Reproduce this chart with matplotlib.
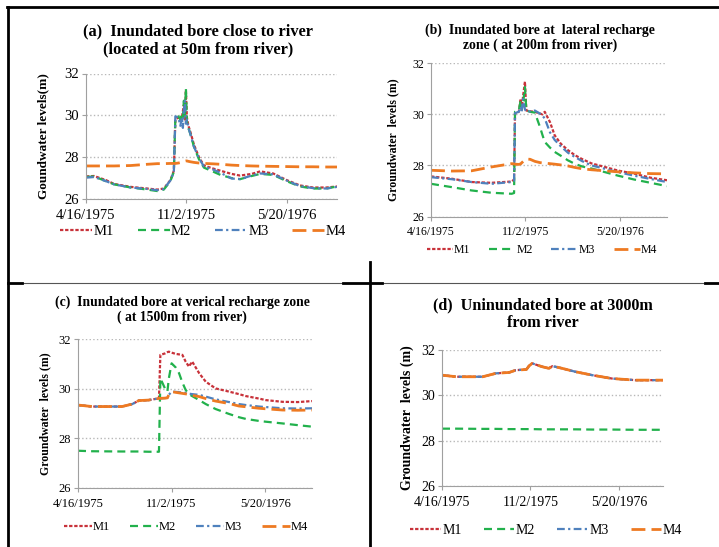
import matplotlib
matplotlib.use('Agg')
import matplotlib.pyplot as plt
from matplotlib.lines import Line2D

plt.rcParams['font.family'] = ['Liberation Serif', 'DejaVu Serif']

W, H = 719, 547

# x axis: days after 4/16/1975
tick_days = [0, 200, 400]
tick_labels = ['4/16/1975', '11/2/1975', '5/20/1976']
series_names = ['M1', 'M2', 'M3', 'M4']

# (a) bore close to river
a_days = [0, 16, 40, 56, 89, 122, 142, 155, 168, 175, 178, 184, 188, 191, 193, 195, 197, 199,
          201, 204, 208, 215, 225, 235, 254, 268, 290, 307, 330, 347, 373, 400, 426, 452, 479, 500]
a_m1 = [27.08, 27.1, 26.9, 26.72, 26.58, 26.5, 26.45, 26.5, 26.9, 27.35, 29.8, 29.9, 29.75, 29.9,
        30.2, 30.5, 29.8, 31.2, 29.9, 29.5, 29.2, 28.6, 28.0, 27.6, 27.45, 27.35, 27.2, 27.12,
        27.2, 27.32, 27.22, 26.9, 26.65, 26.55, 26.55, 26.6]
a_m2 = [27.05, 27.08, 26.85, 26.7, 26.55, 26.45, 26.38, 26.45, 26.85, 27.3, 29.85, 29.95, 29.8,
        30.1, 29.9, 30.7, 29.9, 31.3, 29.7, 29.4, 29.1, 28.5, 27.9, 27.5, 27.3, 27.15, 27.0,
        26.95, 27.1, 27.2, 27.15, 26.85, 26.6, 26.5, 26.5, 26.6]
a_m3 = [27.02, 27.05, 26.85, 26.7, 26.55, 26.48, 26.42, 26.48, 26.88, 27.3, 29.95, 29.9, 29.5,
        29.9, 29.4, 30.3, 30.7, 29.6, 29.8, 29.4, 29.1, 28.5, 27.95, 27.55, 27.4, 27.25, 26.98,
        26.95, 27.12, 27.22, 27.18, 26.88, 26.62, 26.52, 26.5, 26.58]
a_m4 = [27.58, 27.58, 27.58, 27.58, 27.6, 27.66, 27.69, 27.69, 27.7, 27.7, 27.7, 27.72, 27.74,
        27.76, 27.78, 27.8, 27.81, 27.82, 27.82, 27.8, 27.78, 27.75, 27.72, 27.7, 27.68, 27.66,
        27.62, 27.6, 27.58, 27.57, 27.56, 27.55, 27.54, 27.54, 27.53, 27.53]

# (b) lateral recharge zone
b_days = [0, 44, 86, 128, 171, 176, 178, 186, 190, 192, 195, 199, 202, 210, 220, 231, 236, 241,
          252, 262, 275, 290, 305, 320, 340, 368, 396, 430, 465, 500]
b_m1 = [27.57, 27.48, 27.35, 27.32, 27.37, 27.45, 30.03, 30.1, 30.6, 30.15, 30.7, 31.28, 30.15,
        30.12, 30.1, 30.03, 30.0, 30.1, 29.7, 29.18, 28.85, 28.6, 28.4, 28.25, 28.08, 27.94, 27.8,
        27.68, 27.52, 27.42]
b_m2 = [27.28, 27.15, 27.02, 26.93, 26.89, 26.92, 30.1, 30.15, 30.55, 30.2, 30.4, 31.07, 30.15,
        30.1, 30.07, 29.5, 29.2, 28.92, 28.7, 28.53, 28.38, 28.2, 28.06, 27.96, 27.88, 27.74,
        27.6, 27.45, 27.32, 27.19]
b_m3 = [27.54, 27.46, 27.35, 27.28, 27.35, 27.4, 30.05, 30.1, 30.3, 30.1, 30.6, 30.2, 30.1,
        30.12, 30.15, 30.03, 29.95, 29.84, 29.3, 29.0, 28.75, 28.5, 28.33, 28.17, 28.0, 27.87,
        27.74, 27.6, 27.47, 27.35]
b_m4 = [27.81, 27.78, 27.79, 27.94, 28.07, 28.06, 28.05, 28.04, 28.06, 28.1, 28.15, 28.22, 28.25,
        28.24, 28.16, 28.11, 28.1, 28.09, 28.07, 28.05, 28.02, 27.98, 27.92, 27.87, 27.83, 27.79,
        27.75, 27.71, 27.68, 27.67]

# (c) vertical recharge zone
c_days = [0, 30, 94, 116, 130, 151, 173, 176, 186, 191, 194, 200, 209, 216, 223, 230, 237, 244,
          259, 273, 294, 323, 344, 359, 387, 401, 437, 470, 500]
c_m1 = [29.34, 29.28, 29.28, 29.38, 29.52, 29.54, 29.61, 31.36, 31.42, 31.47, 31.49, 31.45, 31.4,
        31.38, 31.36, 31.09, 30.89, 31.09, 30.62, 30.28, 30.01, 29.88, 29.78, 29.7, 29.6, 29.54,
        29.47, 29.46, 29.5]
c_m2 = [27.5, 27.48, 27.47, 27.47, 27.47, 27.46, 27.46, 30.42, 30.0, 29.88, 30.4, 31.02, 30.85,
        30.62, 30.25, 29.95, 29.78, 29.7, 29.54, 29.38, 29.18, 28.98, 28.85, 28.78, 28.7, 28.67,
        28.6, 28.53, 28.47]
c_m3 = [29.34, 29.28, 29.28, 29.38, 29.52, 29.54, 29.61, 29.61, 29.62, 29.63, 29.75, 29.88, 29.87,
        29.86, 29.84, 29.83, 29.8, 29.78, 29.75, 29.68, 29.57, 29.46, 29.38, 29.34, 29.28, 29.26,
        29.21, 29.2, 29.21]
c_m4 = [29.34, 29.28, 29.28, 29.38, 29.52, 29.54, 29.61, 29.61, 29.62, 29.63, 29.75, 29.88, 29.85,
        29.83, 29.81, 29.79, 29.76, 29.73, 29.68, 29.6, 29.5, 29.4, 29.3, 29.27, 29.21, 29.19,
        29.14, 29.13, 29.14]

# (d) uninundated bore
d_days = [0, 32, 92, 122, 152, 167, 191, 197, 204, 227, 242, 250, 272, 302, 340, 385, 438, 500]
d_m1 = [30.89, 30.82, 30.82, 30.97, 31.01, 31.11, 31.14, 31.3, 31.41, 31.26, 31.19, 31.29, 31.19,
        31.04, 30.89, 30.74, 30.67, 30.67]
d_m2 = [28.53, 28.53, 28.52, 28.52, 28.51, 28.51, 28.51, 28.51, 28.51, 28.5, 28.5, 28.5, 28.5,
        28.5, 28.49, 28.49, 28.48, 28.48]
d_m3 = list(d_m1)
d_m4 = list(d_m1)

colors = ['#C8323A', '#22B14C', '#4F81BD', '#EE7A22']
styles = [dict(lw=1.6, dashes=(1.5, 0.8)),
          dict(lw=1.6, dashes=(3.6, 2.3)),
          dict(lw=1.6, dashes=(3.5, 1.5, 1, 1.5)),
          dict(lw=2.0, dashes=(5, 2.2))]

panels = [
    dict(data=(a_days, [a_m1, a_m2, a_m3, a_m4]), box=(86, 337, 73.5, 199),
         title='(a)  Inundated bore close to river\n(located at 50m from river)',
         tpos=(198, 40), tsize=11.8, ylabel='Goundwater levels(m)', ypos=43, ysize=9.5,
         ticksize=10.5, xpad=4, leg=(203, 231), lsize=10.5),
    dict(data=(b_days, [b_m1, b_m2, b_m3, b_m4]), box=(431, 667, 63.3, 216.5),
         title='(b)  Inundated bore at  lateral recharge\nzone ( at 200m from river)',
         tpos=(540, 37.5), tsize=9.9, ylabel='Groundwater  levels (m)', ypos=393, ysize=8.5,
         ticksize=8.5, xpad=4, leg=(542, 250), lsize=8.5),
    dict(data=(c_days, [c_m1, c_m2, c_m3, c_m4]), box=(78, 312, 339, 488),
         title='(c)  Inundated bore at verical recharge zone\n( at 1500m from river)',
         tpos=(182, 309.5), tsize=9.8, ylabel='Groundwater  levels (m)', ypos=45, ysize=8.5,
         ticksize=9, xpad=4, leg=(186, 527), lsize=9),
    dict(data=(d_days, [d_m1, d_m2, d_m3, d_m4]), box=(442, 663, 350, 486),
         title='(d)  Uninundated bore at 3000m\nfrom river',
         tpos=(543, 314), tsize=11.6, ylabel='Groundwater  levels (m)', ypos=407, ysize=10,
         ticksize=10, xpad=4, leg=(546, 530), lsize=10),
]

fig = plt.figure(figsize=(W / 100, H / 100), dpi=100)

for p in panels:
    x0, x1, y0, y1 = p['box']
    ax = fig.add_axes([x0 / W, 1 - y1 / H, (x1 - x0) / W, (y1 - y0) / H])
    days, vals = p['data']
    handles = []
    for name, v, c, st in zip(series_names, vals, colors, styles):
        h, = ax.plot(days, v, color=c, label=name, **st)
        handles.append(h)
    ax.set_xlim(0, 500)
    ax.set_ylim(26, 32)
    ax.set_yticks([26, 28, 30, 32])
    ax.set_xticks(tick_days)
    ax.set_xticklabels(tick_labels)
    ax.tick_params(labelsize=p['ticksize'], color='#A0A0A0', length=3, pad=2)
    ax.tick_params(axis='x', pad=p['xpad'])
    ax.grid(axis='y', color='#B8B8B8', linestyle=':', linewidth=1)
    for s in ['top', 'right']:
        ax.spines[s].set_visible(False)
    for s in ['left', 'bottom']:
        ax.spines[s].set_color('#A0A0A0')
    fig.text(p['tpos'][0] / W, 1 - p['tpos'][1] / H, p['title'], ha='center', va='center',
             fontsize=p['tsize'], fontweight='bold', linespacing=1.15)
    fig.text(p['ypos'] / W, 1 - (y0 + y1) / 2 / H, p['ylabel'], rotation=90, ha='center',
             va='center', fontsize=p['ysize'], fontweight='bold')
    fig.legend(handles=handles, loc='center', ncol=4, frameon=False,
               bbox_to_anchor=(p['leg'][0] / W, 1 - p['leg'][1] / H),
               fontsize=p['lsize'], handlelength=2.2, handletextpad=0.1, columnspacing=1.6,
               borderpad=0.1)


def seg(xs, ys, color='black', lw=2.0):
    fig.add_artist(Line2D([x / W for x in xs], [1 - y / H for y in ys], color=color, lw=lw))


# table borders
seg([7, 719], [7, 7])
seg([8, 8], [7, 547])
seg([370, 370], [262, 547])
seg([8, 719], [283, 283], color='#555555', lw=0.8)
seg([8, 22], [283, 283])
seg([343, 382], [283, 283])
seg([705, 719], [283, 283])

fig.savefig('out.png', dpi=100)
